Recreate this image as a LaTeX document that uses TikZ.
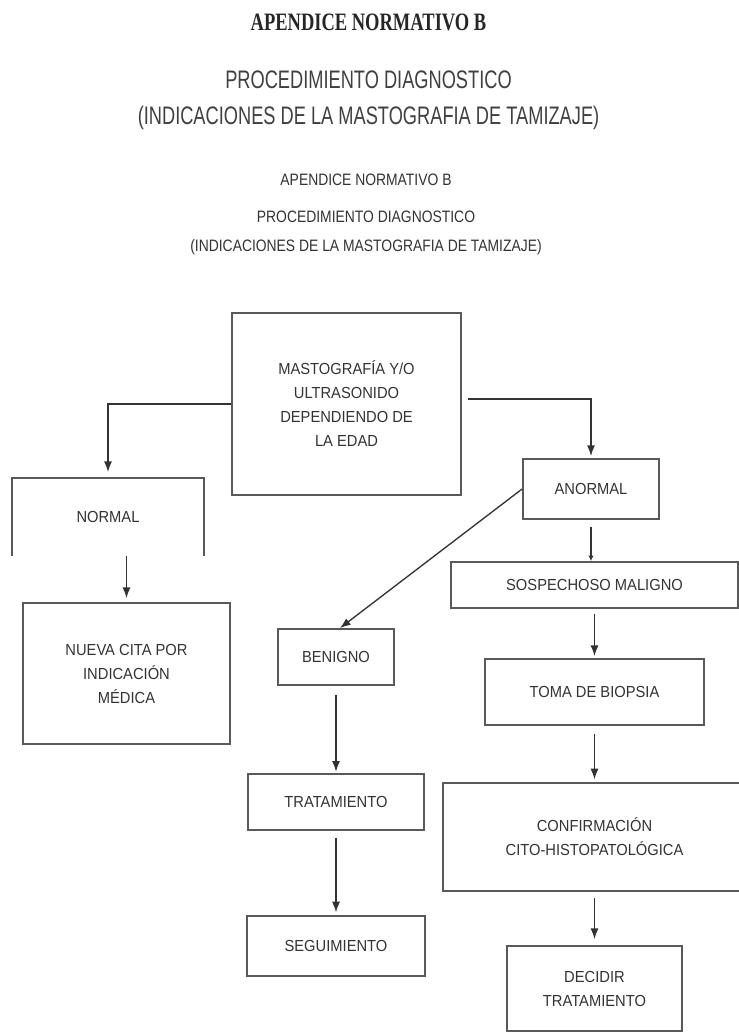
\documentclass[tikz,border=0pt]{standalone}
\usepackage{fontspec}
\setmainfont{Liberation Sans}
\newfontfamily\titulofont[FakeStretch=0.74]{Liberation Serif}
\newfontfamily\grandefont[FakeStretch=0.72]{Liberation Sans}
\newfontfamily\chicafont[FakeStretch=0.84]{Liberation Sans}
\newfontfamily\cajafont[FakeStretch=0.92]{Liberation Sans}
\usetikzlibrary{arrows.meta}

\begin{document}
\begin{tikzpicture}[x=0.75pt, y=-0.75pt,
        caja/.style={draw=black!65, line width=1.4pt, align=center, inner sep=0pt,
            text=black!80, font=\cajafont\fontsize{12pt}{18pt}\selectfont},
        flecha/.style={draw=black!80, line width=1pt, -{Latex[length=8pt, width=6pt]}}]
    \useasboundingbox (0,0) rectangle (739,1032);

    % encabezado
    \node[font=\titulofont\bfseries\fontsize{18.75pt}{20pt}\selectfont, text=black!85] (tit) at (368.5,22) {APENDICE NORMATIVO B};
    \node[align=center, font=\grandefont\fontsize{19pt}{27pt}\selectfont, text=black!75] (sub) at (368.5,100)
        {PROCEDIMIENTO DIAGNOSTICO\\(INDICACIONES DE LA MASTOGRAFIA DE TAMIZAJE)};
    \node[font=\chicafont\fontsize{12.4pt}{14pt}\selectfont, text=black!80] (tit2) at (366,180) {APENDICE NORMATIVO B};
    \node[align=center, font=\chicafont\fontsize{12.4pt}{21.75pt}\selectfont, text=black!80] (sub2) at (366,232.5)
        {PROCEDIMIENTO DIAGNOSTICO\\(INDICACIONES DE LA MASTOGRAFIA DE TAMIZAJE)};

    % cajas
    \node[caja, minimum width=171.75pt, minimum height=136.5pt] (mu) at (346.5,404)
        {MASTOGRAFÍA Y/O\\ULTRASONIDO\\DEPENDIENDO DE\\LA EDAD};
    \node[caja, draw=none, minimum width=142.5pt, minimum height=57pt] (no) at (108,517) {NORMAL};
    \draw[black!65, line width=1.4pt] (no.south west) -- (no.north west) -- (no.north east) -- (no.south east);
    \node[caja, minimum width=155.25pt, minimum height=105.75pt] (nc) at (126.5,673.5)
        {NUEVA CITA POR\\INDICACIÓN\\MÉDICA};
    \node[caja, minimum width=102pt, minimum height=45pt] (an) at (591,489) {ANORMAL};
    \node[caja, minimum width=215.25pt, minimum height=34.5pt] (sm) at (594.5,585) {SOSPECHOSO MALIGNO};
    \node[caja, minimum width=87pt, minimum height=42pt] (be) at (336,657) {BENIGNO};
    \node[caja, minimum width=132pt, minimum height=42pt] (tr) at (336,802) {TRATAMIENTO};
    \node[caja, minimum width=133.5pt, minimum height=45pt] (se) at (336,946) {SEGUIMIENTO};
    \node[caja, minimum width=164.25pt, minimum height=49.5pt] (tb) at (594.5,692) {TOMA DE BIOPSIA};
    \node[caja, minimum width=227.25pt, minimum height=81pt] (ch) at (594.5,837)
        {CONFIRMACIÓN\\CITO-HISTOPATOLÓGICA};
    \node[caja, minimum width=131.25pt, minimum height=63.75pt] (dt) at (594.5,988.5)
        {DECIDIR\\TRATAMIENTO};

    % flechas
    \draw[flecha, shorten >=4.5pt] (mu.west) -| (no.north);
    \draw[flecha, shorten <=4.5pt, shorten >=1.5pt] ([yshift=3.75pt]mu.east) -| (an.north);
    \draw[flecha] (an.west) -- ([xshift=3pt]be.north);
    \draw[flecha, shorten <=5pt, -{Latex[length=4pt, width=4pt]}] (an.south) -- (an.south |- sm.north);
    \draw[flecha, shorten <=4pt, shorten >=1.5pt] (sm) -- (tb);
    \draw[flecha, shorten <=6pt, shorten >=2pt] (tb) -- (ch);
    \draw[flecha, shorten <=4.5pt, shorten >=4.5pt] (ch) -- (dt);
    \draw[flecha, shorten >=3pt] (no.south -| nc.north) -- (nc.north);
    \draw[flecha, shorten <=6.75pt, shorten >=1pt] (be) -- (tr);
    \draw[flecha, shorten <=5pt, shorten >=2pt] (tr) -- (se);
\end{tikzpicture}
\end{document}
